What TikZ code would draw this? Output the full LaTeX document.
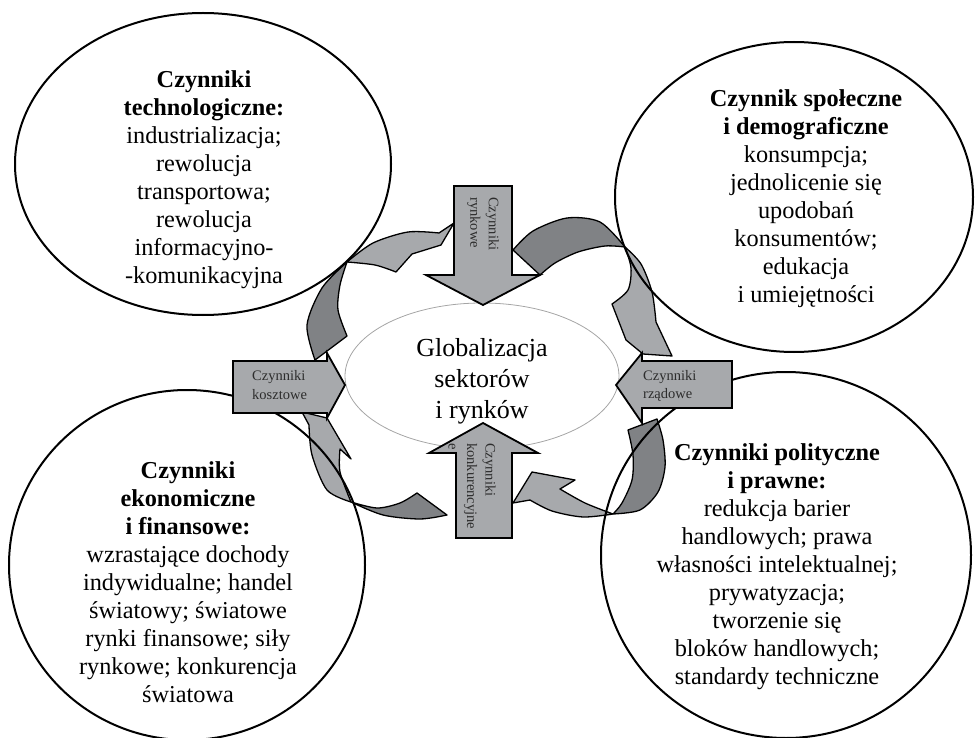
\documentclass[tikz,border=0pt]{standalone}
\usepackage{fontspec}
\setmainfont{Liberation Serif}
\usetikzlibrary{shapes.geometric}
\definecolor{arrlight}{RGB}{167,169,172}
\definecolor{arrdark}{RGB}{128,130,133}
\definecolor{labelgray}{RGB}{45,45,45}
\definecolor{centerline}{RGB}{165,165,165}
\begin{document}
\begin{tikzpicture}[x=1pt,y=-1pt,
  lightarr/.style={fill=arrlight, draw=black, line width=1.3pt, line join=round},
  darkarr/.style={fill=arrdark, draw=black, line width=1.3pt, line join=round},
  bigell/.style={ellipse, draw=black, line width=2pt, inner sep=0pt},
  straightarr/.style={fill=arrlight, draw=black, line width=1.8pt, line join=miter},
  bigtext/.style={align=center, inner sep=0pt, font=\fontsize{24.3}{28}\selectfont},
  centertext/.style={align=center, inner sep=0pt, font=\fontsize{26}{31}\selectfont},
  smalltext/.style={align=left, inner sep=0pt, text=labelgray, font=\fontsize{14.5}{18.5}\selectfont}]
\useasboundingbox (0,0) rectangle (975,738);

% ---- curved arrows ----
% arrow 1 (top-left)
\filldraw[darkarr] plot[smooth] coordinates {(315,360) (307,325) (322,288) (347,262)}
  -- plot[smooth] coordinates {(347,262) (340,285) (338,310) (347,336)} -- cycle;
\filldraw[lightarr] plot[smooth] coordinates {(347,262) (373,243) (408,232) (439,233)}
  -- (454,223) -- (441,245) -- (412,254) -- (396,272)
  -- plot[smooth] coordinates {(396,272) (375,265) (347,262)} -- cycle;
% arrow 2 (top-right)
\filldraw[darkarr] plot[smooth] coordinates {(513,250) (533,231) (567,218) (600,222) (625,247)}
  -- plot[smooth] coordinates {(625,247) (605,246) (578,252) (555,263) (540,275)} -- cycle;
\filldraw[lightarr] plot[smooth] coordinates {(625,247) (641,264) (652,292) (656,322)}
  -- (672,356) -- (643,354) -- (626,340) -- (612,304)
  -- plot[smooth] coordinates {(612,304) (628,290) (631,268) (625,247)} -- cycle;
% arrow 3 (bottom-right)
\filldraw[darkarr] plot[smooth] coordinates {(628,430) (633,455) (632,480) (622,503) (613,514)}
  -- plot[smooth] coordinates {(613,514) (640,510) (658,492) (665,467) (663,440) (657,419)} -- cycle;
\filldraw[lightarr] plot[smooth] coordinates {(613,514) (583,517) (552,511) (530,500)}
  -- (513,503) -- (532,472) -- (575,480) -- (560,489)
  -- plot[smooth] coordinates {(560,489) (585,503) (613,514)} -- cycle;
% arrow 4 (bottom-left)
\filldraw[darkarr] plot[smooth] coordinates {(351,502) (377,508) (400,503) (417,493)}
  -- (447,515) -- plot[smooth] coordinates {(447,515) (420,519) (383,515) (351,502)} -- cycle;
\filldraw[lightarr] plot[smooth] coordinates {(351,502) (327,490) (312,455) (309,425)}
  -- (302,412) -- (327,418) -- (351,459) -- (340,449)
  -- plot[smooth] coordinates {(340,449) (340,472) (351,502)} -- cycle;

% ---- big ellipses ----
\node[bigell, minimum width=376pt, minimum height=302pt] (tl) at (203,164) {};
\node[bigell, minimum width=358pt, minimum height=310pt] (tr) at (794,197) {};
\node[bigell, minimum width=356pt, minimum height=350pt] (bl) at (187,565) {};
\node[bigell, minimum width=370pt, minimum height=366pt] (br) at (786,555) {};

% ---- central ellipse ----
\node[ellipse, draw=centerline, line width=0.8pt, minimum width=274pt, minimum height=146pt] (ctr) at (482,376) {};

% ---- straight arrows ----
\filldraw[straightarr] (454,186) -- (512,186) -- (512,275) -- (540,275) -- (483,305) -- (426,275) -- (454,275) -- cycle;
\filldraw[straightarr] (233,361) -- (327,361) -- (327,353) -- (345,385) -- (327,418) -- (327,413) -- (233,413) -- cycle;
\filldraw[straightarr] (732,361) -- (642,361) -- (642,353) -- (616,385) -- (642,423) -- (642,408) -- (732,408) -- cycle;
\filldraw[straightarr] (456,538) -- (456,453) -- (429,453) -- (483,423) -- (538,453) -- (512,453) -- (512,538) -- cycle;

% ---- texts ----
\node[centertext] (ctext) at (482,381) {Globalizacja\\sektorów\\i rynków};

\node[bigtext] (tltext) at (204,180) {\textbf{Czynniki}\\\textbf{technologiczne:}\\industrializacja;\\rewolucja\\transportowa;\\rewolucja\\informacyjno-\\-komunikacyjna};
\node[bigtext] (trtext) at (806,199) {\textbf{Czynnik społeczne}\\\textbf{i demograficzne}\\konsumpcja;\\jednolicenie się\\upodobań\\konsumentów;\\edukacja\\i umiejętności};
\node[bigtext] (bltext) at (188,582) {\textbf{Czynniki}\\\textbf{ekonomiczne}\\\textbf{i finansowe:}\\wzrastające dochody\\indywidualne; handel\\światowy; światowe\\rynki finansowe; siły\\rynkowe; konkurencja\\światowa};
\node[bigtext] (brtext) at (777,567) {\textbf{Czynniki polityczne}\\\textbf{i prawne:}\\redukcja barier\\handlowych; prawa\\własności intelektualnej;\\prywatyzacja;\\tworzenie się\\bloków handlowych;\\standardy techniczne};

\node[smalltext, anchor=west] (klab) at (252,385) {Czynniki\\kosztowe};
\node[smalltext, anchor=west] (rlab) at (643,386) {Czynniki\\rządowe};
\node[smalltext, rotate=-90, anchor=west] (tlab) at (483,197) {Czynniki\\rynkowe};
\node[smalltext, rotate=-90, anchor=west] (blab) at (472,443) {Czynniki\\konkurencyjne\\e};
\end{tikzpicture}
\end{document}
